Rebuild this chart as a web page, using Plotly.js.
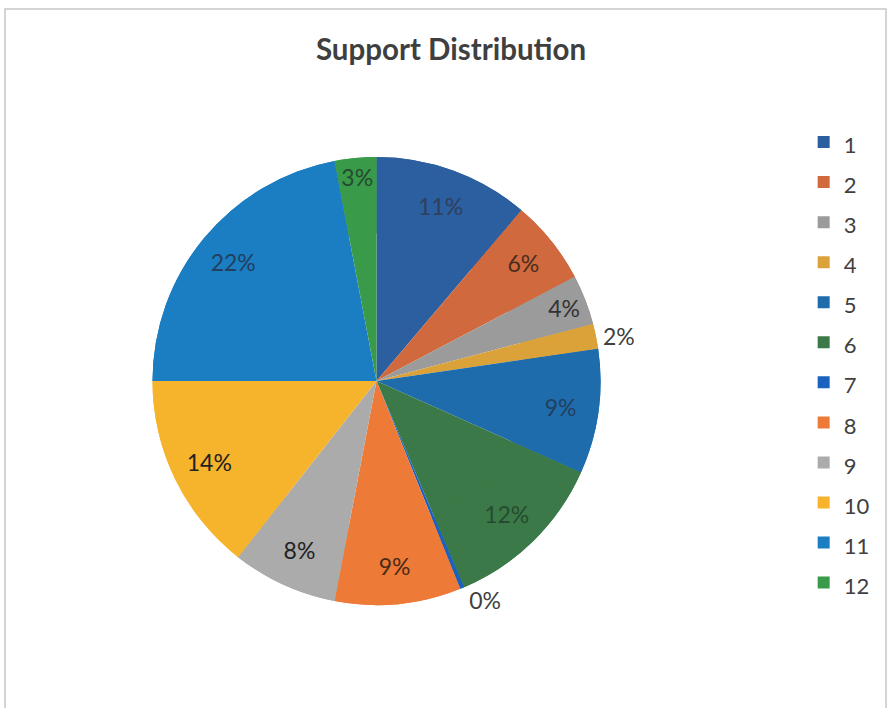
<!DOCTYPE html>
<html>
<head>
<meta charset="utf-8">
<script src="https://cdn.plot.ly/plotly-3.0.1.min.js"></script>
<style>html,body{margin:0;padding:0;background:#fff;}#chart{width:890px;height:708px;}</style>
</head>
<body>
<div id="chart"></div>
<script>
// Data
const categories = ['1','2','3','4','5','6','7','8','9','10','11','12'];
const values = [11.2, 6.1, 3.6, 1.8, 9.0, 11.9, 0.3, 9.1, 7.6, 14.4, 22.0, 3.0];
const sliceColors = ['#2c5f9f','#d0693e','#9b9b9b','#dba23a','#1f6cac','#3b7a48',
                     '#1a62bf','#ee7a38','#ababab','#f6b32c','#1b7dc2','#399a4a'];
const labelColors = ['#2f3f5c','#4b2c1c','#333333','#404040','#21405f','#264a30',
                     '#404040','#4a2a16','#222222','#222222','#21405f','#264a30'];
const labelPositions = ['inside','inside','inside','outside','inside','inside',
                        'outside','inside','inside','inside','inside','inside'];

const W = 890, H = 708;
const cx = 376.5, cy = 381, R = 224;
const FONT = 'Lato, "Open Sans", sans-serif';
const dom = {x: [(cx - R) / W, (cx + R) / W], y: [(H - cy - R) / H, (H - cy + R) / H]};
const legendLabels = categories.map(c => '<span style="font-size:22px">' + c + '</span>');

// full disc underneath (no text)
const base = {
  type: 'pie',
  labels: legendLabels,
  values: values,
  sort: false, direction: 'clockwise', rotation: 0,
  marker: {colors: sliceColors, line: {width: 0}},
  textinfo: 'none',
  showlegend: false,
  domain: dom,
  hoverinfo: 'skip'
};

// same slices as a ring on top: carries the labels further out, like the reference
const ring = {
  type: 'pie',
  labels: legendLabels,
  values: values,
  sort: false, direction: 'clockwise', rotation: 0,
  hole: 0.66,
  marker: {colors: sliceColors, line: {width: 0}},
  textinfo: 'percent',
  texttemplate: '%{percent:.0%}',
  textposition: labelPositions,
  insidetextorientation: 'horizontal',
  textfont: {family: FONT, size: 23, color: labelColors},
  outsidetextfont: {family: FONT, size: 23, color: '#404040'},
  domain: dom,
  hoverinfo: 'label+percent'
};

const layout = {
  width: W, height: H,
  margin: {l: 0, r: 0, t: 0, b: 0},
  paper_bgcolor: '#ffffff',
  uniformtext: {minsize: 23, mode: 'show'},
  title: {
    text: '<b>Support Distribution</b>',
    x: 451 / W, xanchor: 'center',
    y: 1 - 50 / H, yanchor: 'middle',
    font: {family: FONT, size: 29.5, color: '#3f3f3f'}
  },
  showlegend: true,
  legend: {
    x: 0.903, xanchor: 'left',
    y: 1 - 117 / H, yanchor: 'top',
    font: {family: FONT, size: 28.5, color: '#404040'},
    bgcolor: 'rgba(0,0,0,0)',
    traceorder: 'normal'
  },
  shapes: [{
    type: 'rect', xref: 'paper', yref: 'paper',
    x0: 5 / W, x1: 886 / W, y0: -0.05, y1: 1 - 9 / H,
    line: {color: '#c6c6c6', width: 1.5}, fillcolor: 'rgba(0,0,0,0)', layer: 'below'
  }]
};

Plotly.newPlot('chart', [base, ring], layout, {displayModeBar: false, staticPlot: true});
</script>
</body>
</html>
